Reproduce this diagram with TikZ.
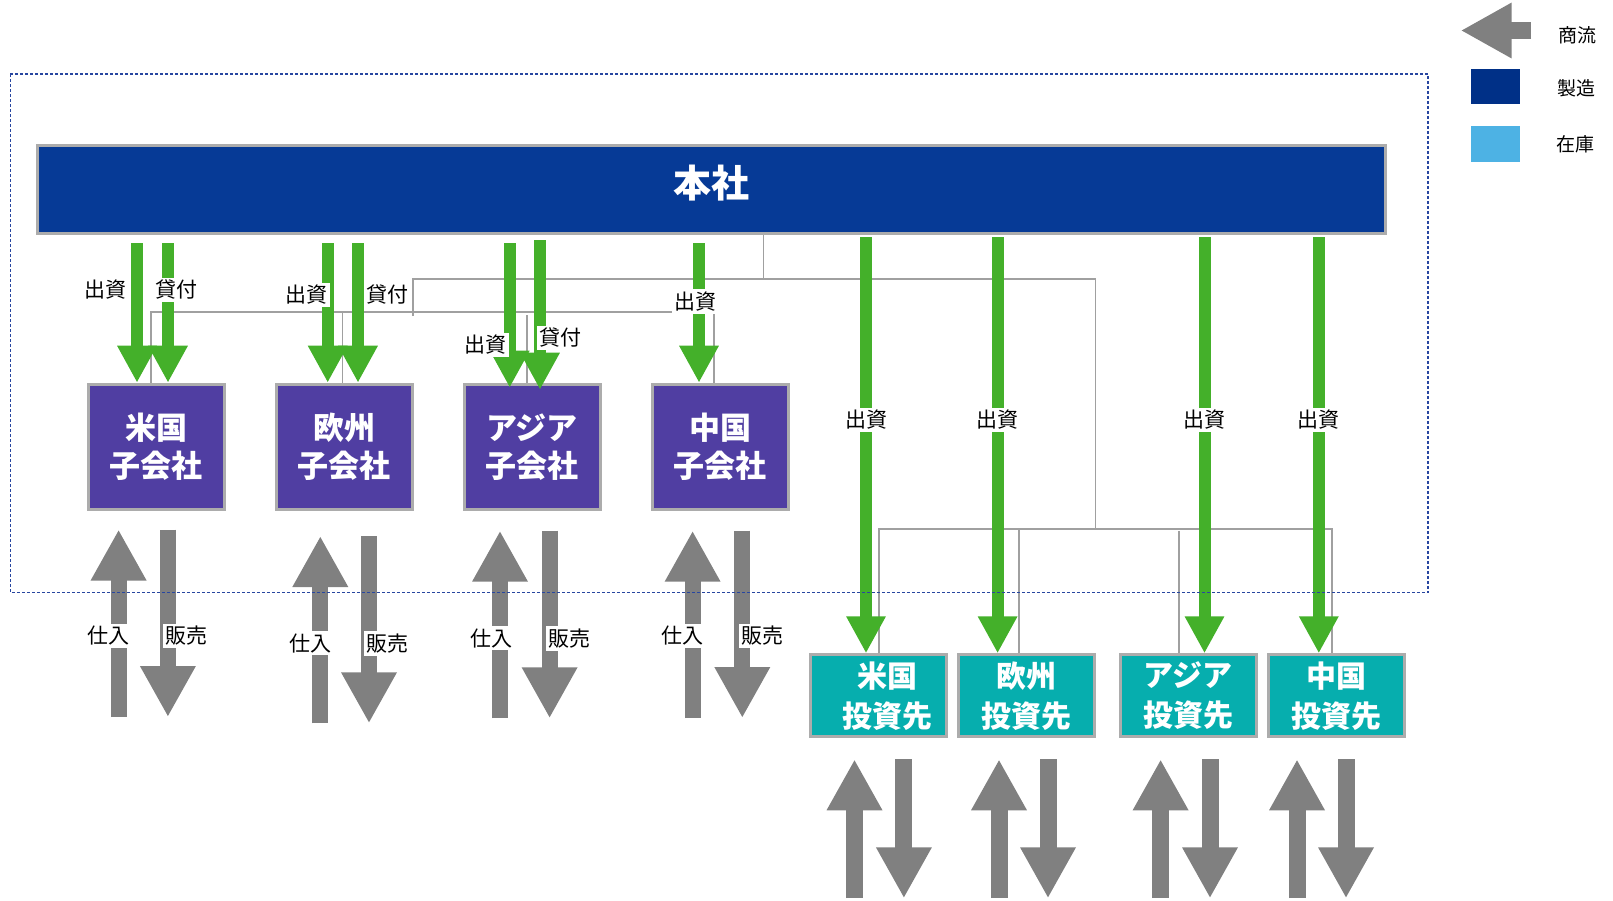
\documentclass[tikz,border=0pt]{standalone}
\usepackage{fontspec}
\setmainfont{Noto Sans CJK JP}
\usetikzlibrary{positioning,arrows.meta}

\definecolor{hqblue}{RGB}{6,58,150}
\definecolor{subpurple}{RGB}{80,62,162}
\definecolor{invteal}{RGB}{6,174,174}
\definecolor{fundgreen}{RGB}{68,176,42}
\definecolor{tradegray}{RGB}{128,128,128}
\definecolor{boxgray}{RGB}{172,172,172}
\definecolor{linegray}{RGB}{160,160,160}
\definecolor{frameblue}{RGB}{40,70,160}
\definecolor{keydark}{RGB}{0,48,135}
\definecolor{keylight}{RGB}{77,178,228}

\begin{document}
\begin{tikzpicture}[x=1pt,y=-1pt,node distance=49pt,
    box/.style={draw=boxgray,line width=3pt,inner sep=0pt,align=center,text=white},
    hq node/.style={box,fill=hqblue,minimum width=1348pt,minimum height=88.5pt,text depth=16pt,font=\fontsize{38}{40}\selectfont\bfseries},
    sub node/.style={box,fill=subpurple,minimum width=136pt,minimum height=125pt,font=\fontsize{31}{38}\selectfont\bfseries},
    inv node/.style={box,fill=invteal,minimum width=136pt,minimum height=82pt,font=\fontsize{30}{40}\selectfont\bfseries},
    fund/.style={draw=fundgreen,line width=12pt,shorten <=8pt,-{Triangle[width=37pt,length=37pt]}},
    trade/.style={draw=tradegray,line width=16pt,-{Triangle[width=52pt,length=51pt]}},
    link/.style={draw=linegray,line width=1.5pt},
    lbl/.style={fill=white,inner sep=2.5pt,font=\fontsize{21}{21}\selectfont},
    key text/.style={font=\fontsize{19}{19}\selectfont}]

  \useasboundingbox (0,0) rectangle (1613,900);

  % boxes
  \node[hq node] (hq) at (711.5,189.3) {本社};

  \node[sub node] (us) at (156,446.7) {米国\\子会社};
  \node[sub node] (eu) [right=of us] {欧州\\子会社};
  \node[sub node] (asia) [right=of eu] {アジア\\子会社};
  \node[sub node] (cn) [right=of asia] {中国\\子会社};

  \node[inv node] (usi) at (878.2,695.8) {\hspace*{18pt}米国\\\hspace*{18pt}投資先};
  \node[inv node] (eui) [right=9pt of usi] {欧州\\投資先};
  \node[inv node] (asiai) [right=23pt of eui] {アジア\\投資先};
  \node[inv node] (cni) [right=9pt of asiai] {中国\\投資先};

  % thin connection lines
  \draw[link] (hq.south -| 763.3,0) -- (763.3,279);
  \draw[link] (413,316) -- (413,279) -- (1095.5,279) -- (1095.5,529);
  \draw[link] (878.8,0 |- usi.north) -- (878.8,529) -- (1332,529) -- (1332,0 |- cni.north);
  \draw[link] (1018.8,529) -- (1018.8,0 |- eui.north);
  \draw[link] (1179,531) -- (1179,0 |- asiai.north);
  \draw[link] (151,0 |- us.north) -- (151,312) -- (714,312) -- (714,0 |- cn.north);
  \draw[link] (342.6,312) -- (342.6,0 |- eu.north);
  \draw[link] (527,315) -- (527,0 |- asia.north);

  % funding from head office
  \draw[fund] (hq.south -| 137,0) -- (137,0 |- us.north);
  \draw[fund] (hq.south -| 168,0) -- (168,0 |- us.north);
  \draw[fund] (hq.south -| 327.7,0) -- (327.7,0 |- eu.north);
  \draw[fund] (hq.south -| 358,0) -- (358,0 |- eu.north);
  \draw[fund,shorten >=-5pt] (hq.south -| 509.7,0) -- (509.7,0 |- asia.north);
  \draw[fund,shorten <=5pt,shorten >=-7pt] (hq.south -| 540,0) -- (540,0 |- asia.north);
  \draw[fund] (hq.south -| 699,0) -- (699,0 |- cn.north);

  \draw[fund,shorten <=2pt] (hq.south -| 866,0) -- (866,0 |- usi.north);
  \draw[fund,shorten <=2pt] (hq.south -| 997.6,0) -- (997.6,0 |- eui.north);
  \draw[fund,shorten <=2pt] (hq.south -| 1204.5,0) -- (1204.5,0 |- asiai.north);
  \draw[fund,shorten <=2pt] (hq.south -| 1318.8,0) -- (1318.8,0 |- cni.north);

  % purchases and sales
  \draw[trade] (118.6,717) -- (118.6,529.5);
  \draw[trade] (167.9,529.5) -- (167.9,717);
  \draw[trade] (320.3,723.3) -- (320.3,536);
  \draw[trade] (369,536) -- (369,723.3);
  \draw[trade] (500,718.3) -- (500,530.7);
  \draw[trade] (549.6,530.7) -- (549.6,718.3);
  \draw[trade] (692.6,718) -- (692.6,530.7);
  \draw[trade] (742.3,530.7) -- (742.3,718);

  \draw[trade,line width=17pt] (854.5,898) -- (854.5,759.3);
  \draw[trade,line width=17pt] (903.9,759) -- (903.9,898.3);
  \draw[trade,line width=17pt] (999,898) -- (999,759.3);
  \draw[trade,line width=17pt] (1048,759) -- (1048,898.3);
  \draw[trade,line width=17pt] (1160.6,898) -- (1160.6,759.3);
  \draw[trade,line width=17pt] (1210,759) -- (1210,898.3);
  \draw[trade,line width=17pt] (1297,898) -- (1297,759.3);
  \draw[trade,line width=17pt] (1346,759) -- (1346,898.3);

  % dashed frame
  \draw[draw=frameblue,line width=1.2pt,dash pattern=on 3pt off 2pt] (10.3,74) rectangle (1428,592.5);

  % labels
  \node[lbl] (l1) at (105.4,290) {出資};
  \node[lbl] (l2) at (176,290) {貸付};
  \node[lbl] (l3) at (306.6,295) {出資};
  \node[lbl] (l4) at (387.6,295) {貸付};
  \node[lbl] (l5) at (485,345) {出資};
  \node[lbl] (l6) at (560,338) {貸付};
  \node[lbl] (l7) at (695,301.5) {出資};
  \node[lbl] (l8) at (866,420) {出資};
  \node[lbl] (l9) at (997.6,420) {出資};
  \node[lbl] (l10) at (1204.5,420) {出資};
  \node[lbl] (l11) at (1318.8,420) {出資};

  \node[lbl] (p1) at (108.6,636) {仕入};
  \node[lbl] (s1) at (186,636) {販売};
  \node[lbl] (p2) at (310,643.3) {仕入};
  \node[lbl] (s2) at (387.7,643.3) {販売};
  \node[lbl] (p3) at (491.4,638.3) {仕入};
  \node[lbl] (s3) at (569.7,638.3) {販売};
  \node[lbl] (p4) at (682.9,636) {仕入};
  \node[lbl] (s4) at (762.8,636) {販売};

  % legend
  \draw[trade,line width=17pt] (1531,30.5) -- (1460.7,30.5);
  \node[fill=keydark,minimum width=49pt,minimum height=35.3pt] (mfg) at (1495.5,86.7) {};
  \node[fill=keylight,minimum width=49pt,minimum height=35.7pt] (stock) at (1495.5,143.9) {};
  \node[key text] (k1) at (1577,35) {商流};
  \node[key text] (k2) at (1576,88) {製造};
  \node[key text] (k3) at (1575,144) {在庫};
\end{tikzpicture}
\end{document}
